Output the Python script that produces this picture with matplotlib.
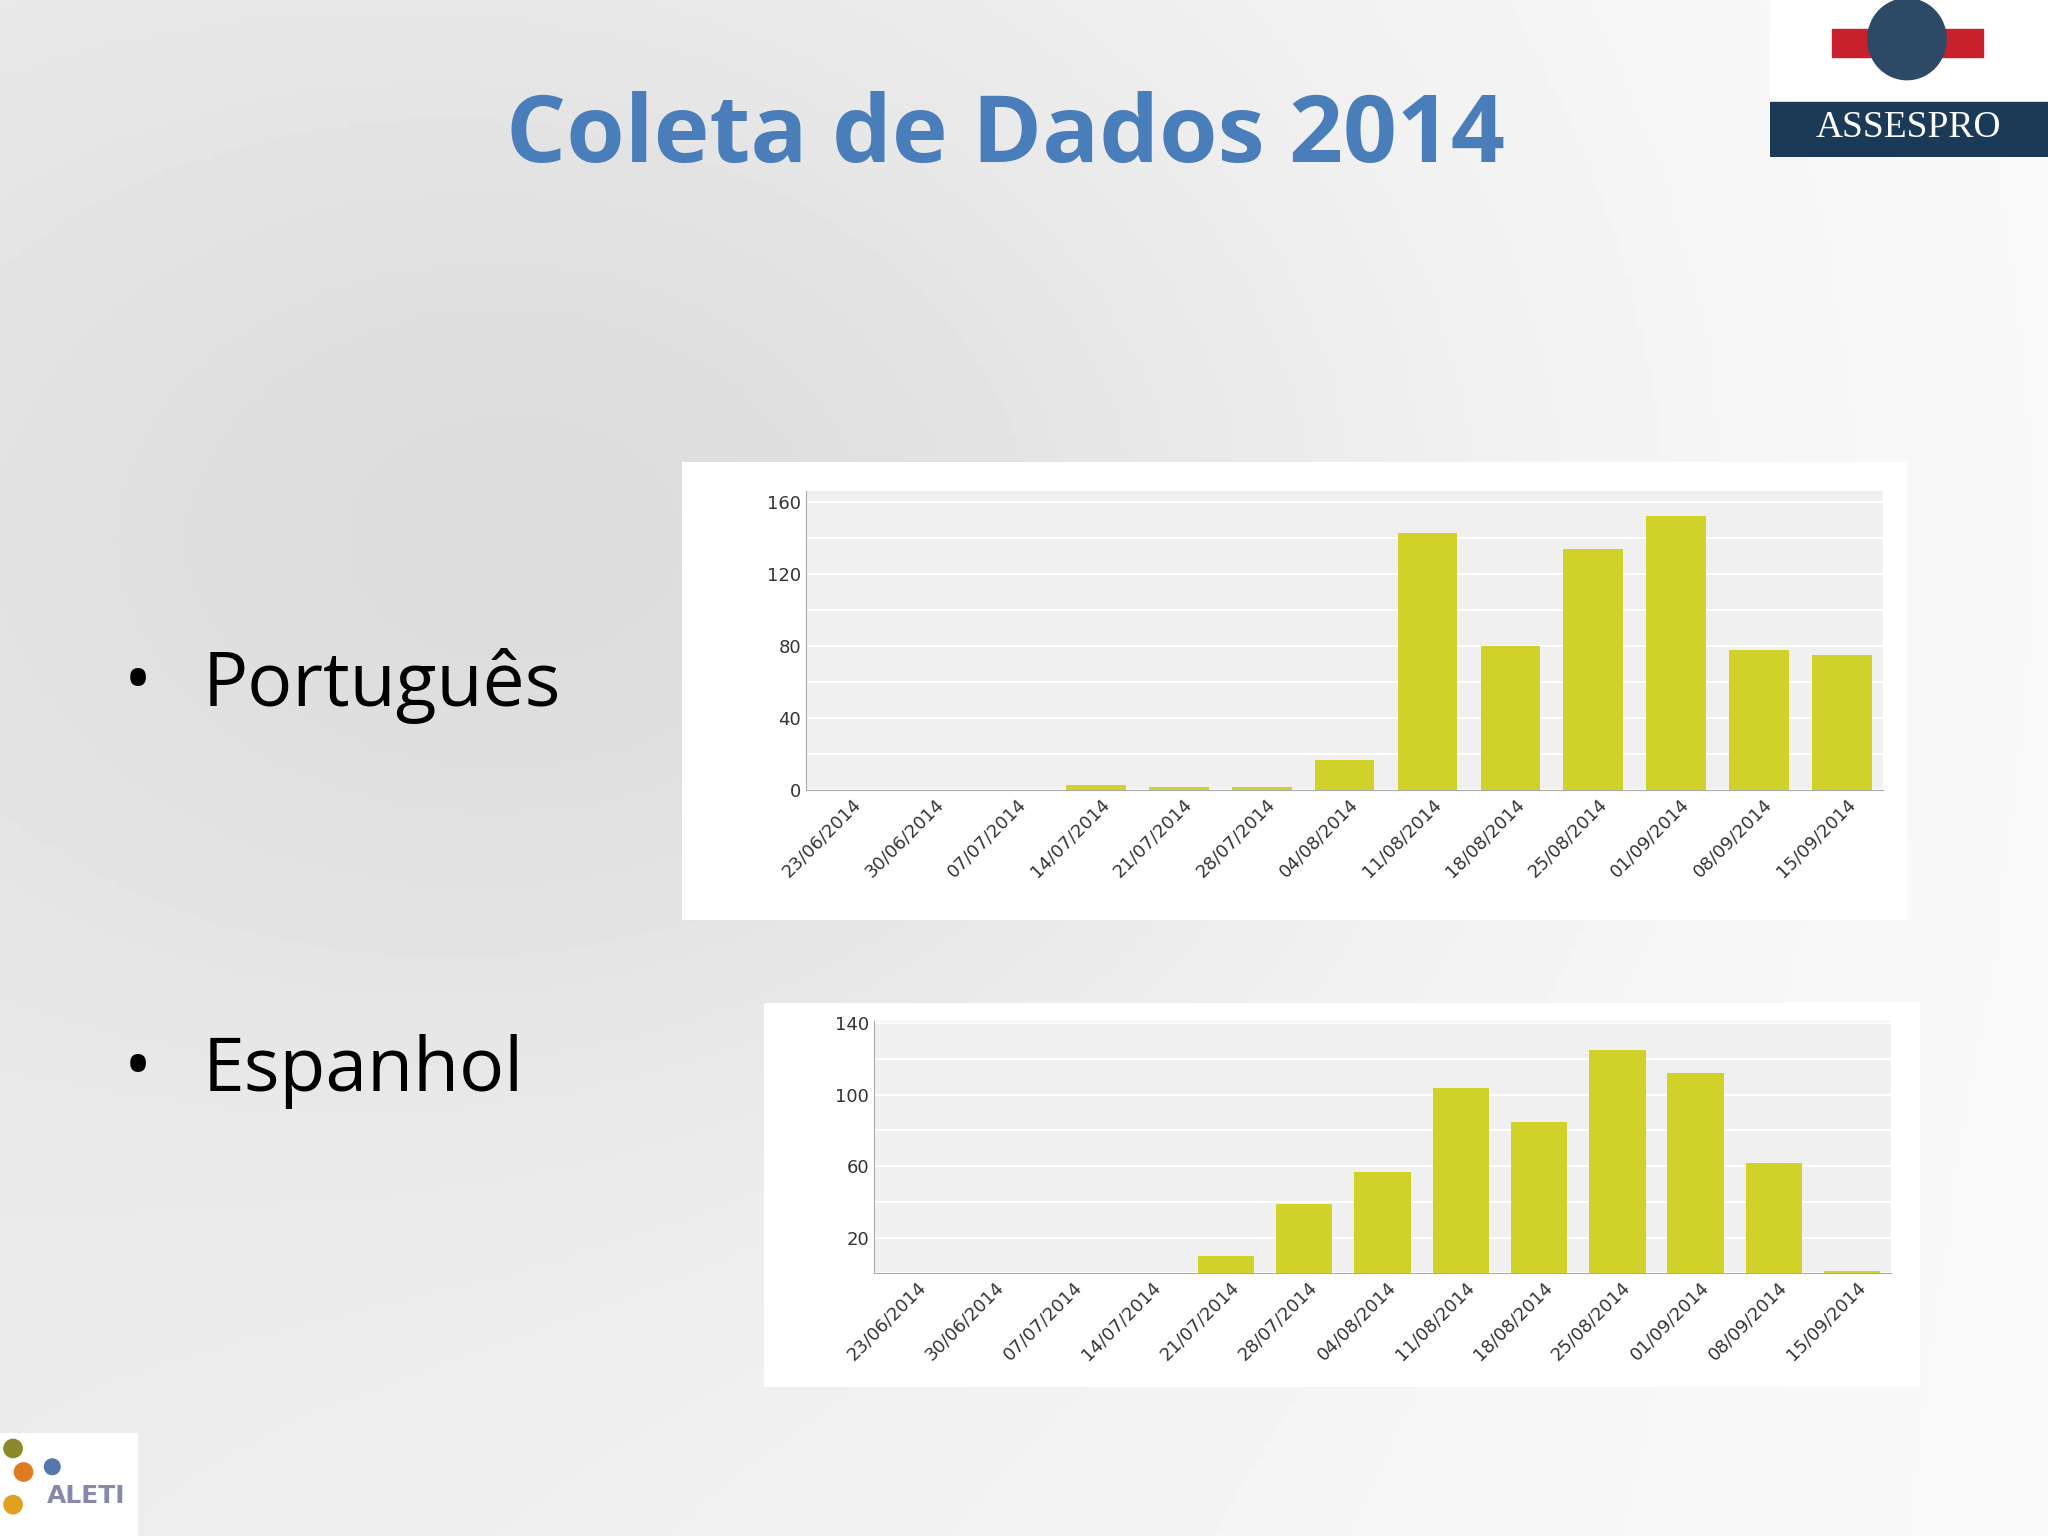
import matplotlib
matplotlib.use("Agg")
import matplotlib.pyplot as plt
import numpy as np
from matplotlib.patches import Rectangle, Ellipse

dates = ["23/06/2014","30/06/2014","07/07/2014","14/07/2014","21/07/2014","28/07/2014",
         "04/08/2014","11/08/2014","18/08/2014","25/08/2014","01/09/2014","08/09/2014","15/09/2014"]
portugues = [0, 0, 0, 3, 2, 2, 17, 143, 80, 134, 152, 78, 75]
espanhol = [0, 0, 0, 0, 10, 39, 57, 104, 85, 125, 112, 62, 1.5]

W, H = 1568, 1176
fig = plt.figure(figsize=(20.48, 15.36), dpi=100)

bg = fig.add_axes([0, 0, 1, 1]); bg.set_axis_off()
x = np.linspace(0, 1, 300); y = np.linspace(0, 1, 300)
X, Y = np.meshgrid(x, y)
Z = 0.93 - 0.08*np.exp(-((X-0.3)**2+(Y-0.35)**2)/0.15) + 0.05*X
bg.imshow(Z, cmap="gray", vmin=0, vmax=1, extent=[0,1,0,1], aspect="auto")
bg.set_xlim(0,1); bg.set_ylim(0,1)

def fr(x0, y0, x1, y1):
    return [x0/W, 1-y1/H, (x1-x0)/W, (y1-y0)/H]

fig.text(770/W, 1-105/H, "Coleta de Dados 2014", color="#4a7ebb", fontsize=68,
         fontweight="bold", ha="center", va="center", family="Open Sans")
for yy, t in [(525, "Português"), (820, "Espanhol")]:
    fig.text(95/W, 1-yy/H, "•", fontsize=54, va="center", family="Open Sans")
    fig.text(155/W, 1-yy/H, t, fontsize=54, va="center", family="Open Sans")

# ASSESPRO logo
lg = fig.add_axes(fr(1355, 0, 1568, 120)); lg.set_axis_off(); lg.set_xlim(0,213); lg.set_ylim(120,0)
lg.add_patch(Rectangle((0,0),213,120,color="white"))
lg.add_patch(Rectangle((0,78),213,42,color="#1b3a57"))
lg.add_patch(Rectangle((48,22),115,22,color="#c8202c"))
lg.add_patch(Ellipse((105,30),60,62,color="#2c4a66"))
lg.text(106,98,"ASSESPRO",color="white",fontsize=27,ha="center",va="center",family="Liberation Serif")

al = fig.add_axes(fr(0,1097,106,1176)); al.set_axis_off(); al.set_xlim(0,106); al.set_ylim(79,0)
al.add_patch(Rectangle((0,0),106,79,color="white"))
al.add_patch(Ellipse((10,12),14,14,color="#8a8a2a"))
al.add_patch(Ellipse((18,30),14,14,color="#e07a20"))
al.add_patch(Ellipse((40,26),12,12,color="#5577aa"))
al.add_patch(Ellipse((10,55),14,14,color="#e0a020"))
al.text(66,48,"ALETI",color="#8888aa",fontsize=18,fontweight="bold",ha="center",va="center")

def panel(box, axbox, vals, ymax, ticks):
    p = fig.add_axes(fr(*box)); p.set_axis_off()
    p.add_patch(Rectangle((0,0),1,1,color="white",transform=p.transAxes))
    ax = fig.add_axes(fr(*axbox))
    ax.set_facecolor("#f0f0f0")
    xs = np.arange(len(vals))
    ax.bar(xs, vals, width=0.72, color="#d0d22a", zorder=3)
    ax.set_xlim(-0.5, len(vals)-0.5); ax.set_ylim(0, ymax)
    ax.set_yticks(ticks)
    ax.set_yticks(np.arange(0, ymax, 20), minor=True)
    ax.grid(True, which="both", axis="y", color="white", lw=1.5, zorder=1)
    ax.set_xticks(xs + 0.05)
    ax.set_xticklabels(dates, rotation=45, ha="right", rotation_mode="anchor", fontsize=13, color="#333333")
    ax.tick_params(axis="y", labelsize=13, colors="#333333", length=0, which="both")
    ax.tick_params(axis="x", length=0)
    for s in ["top","right"]: ax.spines[s].set_visible(False)
    ax.spines["left"].set_color("#aaaaaa"); ax.spines["bottom"].set_color("#aaaaaa")

panel((522,354,1460,704),(617,376,1442,605),portugues,166,[0,40,80,120,160])
panel((585,768,1470,1062),(669,782,1448,975),espanhol,141,[20,60,100,140])

fig.savefig("out.png", dpi=100)
